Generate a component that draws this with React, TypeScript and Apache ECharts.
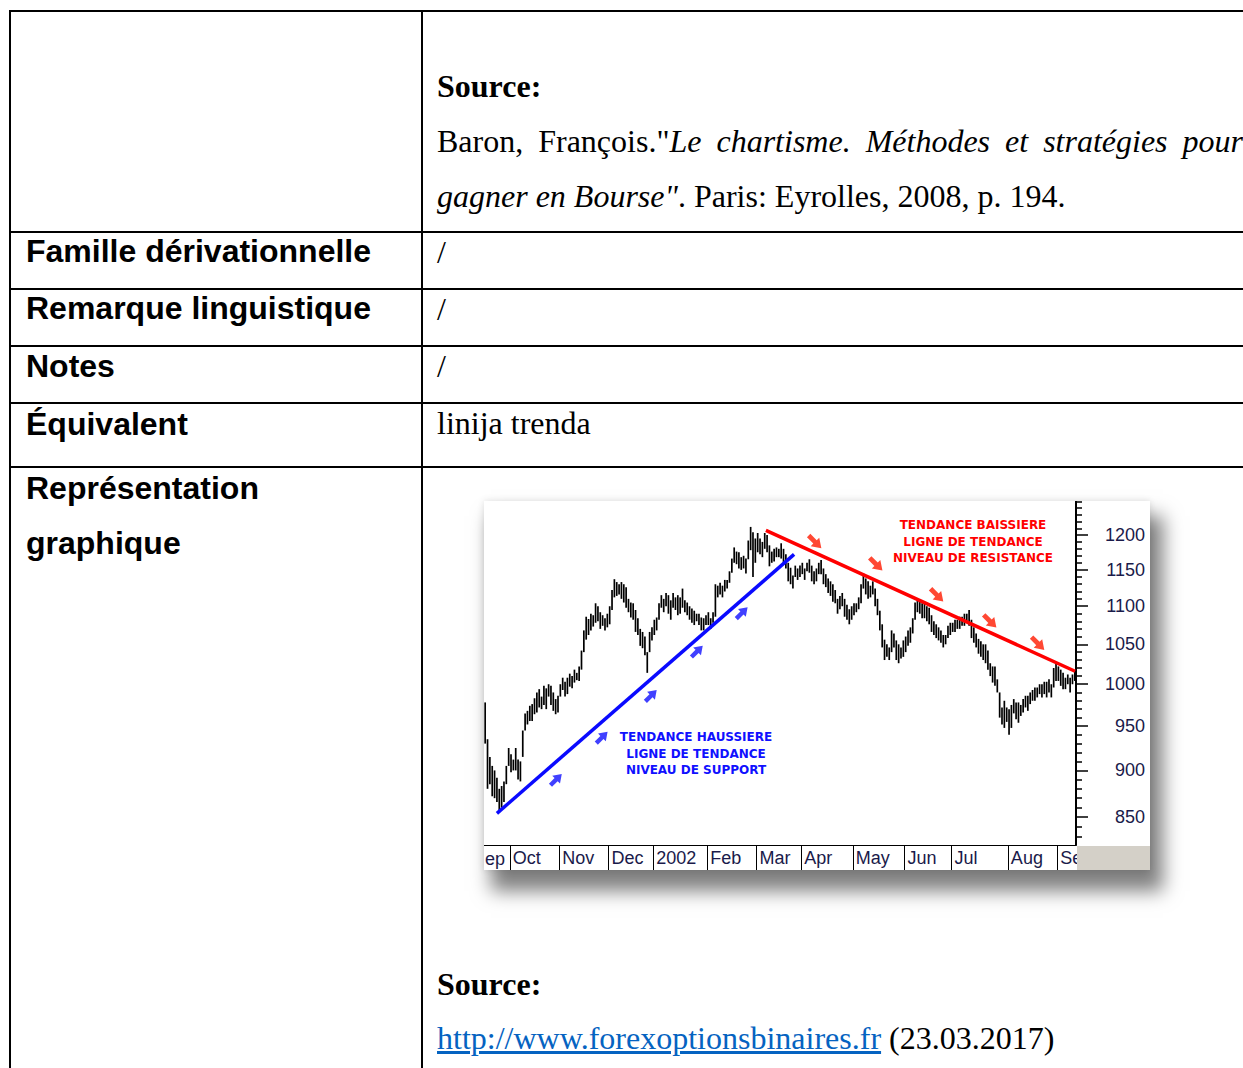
import React, { useEffect, useRef } from "react";
import * as echarts from "echarts";

// ---- Data (daily bars, Sep 2001 – Sep 2002) ----
const highs: number[] = [
  978, 935, 915, 905, 900, 892, 880, 883, 888, 905, 925,
  918, 912, 925, 912, 910, 945, 965, 968, 974, 976, 983, 990, 994, 985, 998, 995, 1000, 998, 990, 982, 986,
  1000, 1008, 1003, 1008, 1013, 1010, 1018, 1014, 1022, 1042, 1068, 1086, 1083, 1090, 1088, 1104, 1100, 1092, 1088, 1084,
  1090, 1100, 1122, 1137, 1133, 1130, 1133, 1130, 1126, 1110, 1105, 1104, 1095, 1084, 1070, 1066, 1060, 1040, 1066, 1072,
  1082, 1085, 1104, 1115, 1110, 1118, 1115, 1108, 1118, 1112, 1115, 1112, 1124, 1108, 1105, 1100, 1097, 1094, 1090, 1090, 1085, 1084, 1088,
  1092, 1084, 1092, 1130, 1128, 1132, 1128, 1136, 1136, 1148, 1166, 1182, 1176, 1175, 1168, 1170, 1166, 1192, 1212, 1204,
  1195, 1203, 1195, 1190, 1203, 1200, 1185, 1176, 1180, 1182, 1180, 1188, 1180, 1172, 1160, 1153, 1142, 1156, 1152,
  1156, 1160, 1152, 1160, 1165, 1156, 1148, 1152, 1160, 1164, 1152, 1144, 1138, 1134, 1130, 1122, 1110, 1114, 1118, 1110, 1102, 1096,
  1100, 1104, 1104, 1112, 1130, 1145, 1138, 1134, 1128, 1134, 1124, 1110, 1094, 1076, 1056, 1050, 1046, 1068, 1064, 1055, 1050, 1046,
  1055, 1060, 1068, 1072, 1084, 1105, 1108, 1108, 1104, 1104, 1100, 1098, 1088, 1080, 1076, 1072, 1068, 1062, 1062, 1074, 1078,
  1078, 1082, 1082, 1086, 1086, 1090, 1090, 1095, 1082, 1072, 1064, 1057, 1054, 1050, 1050, 1042, 1026, 1022, 1022, 1006, 990, 972, 980,
  972, 970, 975, 982, 978, 978, 975, 982, 986, 986, 990, 993, 996, 996, 1000, 1000, 1003, 1003, 1006, 1000, 1020,
  1026, 1022, 1018, 1014, 1008, 1012, 1008, 1012, 1016,
];
const lows: number[] = [
  930, 880, 885, 872, 870, 866, 855, 860, 866, 885, 905,
  898, 900, 900, 890, 888, 915, 945, 952, 956, 956, 964, 966, 972, 970, 975, 970, 985, 975, 968, 964, 966,
  985, 993, 985, 988, 997, 995, 1002, 1005, 1004, 1018, 1040, 1056, 1062, 1068, 1073, 1078, 1080, 1070, 1074, 1068,
  1072, 1076, 1095, 1112, 1114, 1116, 1110, 1105, 1098, 1092, 1085, 1082, 1066, 1062, 1048, 1045, 1036, 1014, 1040, 1055,
  1062, 1068, 1082, 1098, 1092, 1100, 1090, 1082, 1098, 1095, 1088, 1090, 1098, 1092, 1088, 1082, 1078, 1075, 1080, 1075, 1068, 1068, 1075,
  1075, 1070, 1078, 1086, 1112, 1116, 1112, 1120, 1124, 1132, 1146, 1160, 1158, 1152, 1150, 1152, 1145, 1165, 1178, 1140,
  1160, 1175, 1172, 1168, 1180, 1175, 1155, 1160, 1162, 1168, 1168, 1166, 1160, 1152, 1134, 1130, 1124, 1140, 1136,
  1140, 1144, 1136, 1148, 1146, 1134, 1130, 1134, 1144, 1144, 1130, 1126, 1118, 1114, 1106, 1104, 1090, 1096, 1100, 1086, 1082, 1076,
  1082, 1088, 1092, 1096, 1104, 1124, 1116, 1110, 1112, 1116, 1100, 1088, 1068, 1046, 1030, 1034, 1030, 1040, 1046, 1030, 1026, 1032,
  1034, 1040, 1048, 1052, 1064, 1082, 1092, 1090, 1084, 1084, 1080, 1076, 1066, 1062, 1058, 1055, 1052, 1046, 1050, 1058, 1062,
  1066, 1066, 1070, 1070, 1074, 1074, 1078, 1074, 1058, 1052, 1046, 1038, 1034, 1030, 1026, 1018, 1010, 1002, 998, 990, 960, 952, 948,
  955, 940, 948, 965, 958, 954, 962, 966, 972, 968, 976, 980, 980, 984, 988, 984, 988, 984, 990, 984, 996,
  1004, 1004, 998, 994, 994, 1000, 990, 1000, 1004,
];

// Month separators: index of first trading day of each month
const monthStarts: number[] = [11, 32, 53, 72, 95, 116, 135, 157, 179, 199, 223, 244];
const monthNames: string[] = ["Oct", "Nov", "Dec", "2002", "Feb", "Mar", "Apr", "May", "Jun", "Jul", "Aug", "Sep"];

// Price axis (log scale)
const priceLabels: number[] = [850, 900, 950, 1000, 1050, 1100, 1150, 1200];
const minorTicks: number[] = [830, 840, 860, 870, 880, 890, 910, 920, 930, 940, 960, 970, 980, 990, 1010, 1020, 1030, 1040,
  1060, 1070, 1080, 1090, 1110, 1120, 1130, 1140, 1160, 1170, 1180, 1190, 1210, 1220, 1230, 1240, 1250];
const priceMin = 821.6;
const priceMax = 1251;

// Trend lines [day index, price]
const resistanceLine: [number, number][] = [[119.5, 1207], [251.1, 1016]];
const supportLine: [number, number][] = [[5.0, 854], [131.5, 1172]];
const resistanceArrows: [number, number][] = [[140.4, 1190], [166.4, 1158], [192.3, 1115], [214.9, 1080], [235.3, 1051]];
const supportArrows: [number, number][] = [[30.2, 890], [49.7, 937], [70.6, 986], [90.2, 1041], [109.3, 1091]];

const redText: string[] = ["TENDANCE BAISSIERE", "LIGNE DE TENDANCE", "NIVEAU DE RESISTANCE"];
const blueText: string[] = ["TENDANCE HAUSSIERE", "LIGNE DE TENDANCE", "NIVEAU DE SUPPORT"];

const LN = Math.log;
const AXIS_COLOR = "#1a1a4a";
const SANS = "'Liberation Sans', Arial, sans-serif";
const ARROW = "path://M3,14 L3,7 L0,7 L5,0 L10,7 L7,7 L7,14 Z";

function buildOption(): any {
  const bars = highs.map((h, i) => [i, LN(h), LN(lows[i])]);
  const tickVals = monthStarts.map((m) => m - 0.5);
  const gridRect = { left: 0, top: 0, width: 592, height: 344, containLabel: false };
  const noteText = (lines: string[], cx: number, ys: number[], color: string) =>
    lines.map((t, i) => ({
      type: "text",
      z: 50,
      style: {
        text: t,
        x: cx,
        y: ys[i],
        align: "center",
        verticalAlign: "middle",
        textAlign: "center",
        textVerticalAlign: "middle",
        font: "bold 12px 'DejaVu Sans', Verdana, sans-serif",
        fill: color,
      },
    }));
  return {
    animation: false,
    backgroundColor: "#ffffff",
    grid: [gridRect, { ...gridRect }],
    xAxis: [
      {
        type: "value",
        gridIndex: 0,
        min: -0.5,
        max: 251.5,
        splitLine: { show: false },
        axisLine: { show: true, onZero: false, lineStyle: { color: "#000", width: 1 } },
        axisTick: { show: true, customValues: tickVals, length: 25, lineStyle: { color: "#000", width: 1 } },
        axisLabel: {
          show: true,
          customValues: tickVals,
          formatter: (v: number) => monthNames[monthStarts.indexOf(Math.round(v + 0.5))] ?? "",
          align: "left",
          margin: 4,
          padding: [0, 0, 0, 3],
          fontSize: 18,
          fontFamily: SANS,
          color: AXIS_COLOR,
        },
      },
      { type: "value", gridIndex: 1, min: -0.5, max: 251.5, show: false, splitLine: { show: false } },
    ],
    yAxis: [
      {
        type: "value",
        gridIndex: 0,
        position: "right",
        min: LN(priceMin),
        max: LN(priceMax),
        splitLine: { show: false },
        axisLine: { show: true, onZero: false, lineStyle: { color: "#000", width: 2 } },
        axisTick: { show: true, customValues: priceLabels.map(LN), length: 12, lineStyle: { color: "#000", width: 1.5 } },
        axisLabel: {
          show: true,
          customValues: priceLabels.map(LN),
          formatter: (v: number) => String(Math.round(Math.exp(v))),
          align: "right",
          margin: 69,
          fontSize: 18,
          fontFamily: SANS,
          color: AXIS_COLOR,
        },
      },
      {
        type: "value",
        gridIndex: 1,
        position: "right",
        min: LN(priceMin),
        max: LN(priceMax),
        splitLine: { show: false },
        axisLine: { show: false, onZero: false },
        axisTick: { show: true, customValues: minorTicks.map(LN), length: 6, lineStyle: { color: "#000", width: 1.5 } },
        axisLabel: { show: false },
      },
    ],
    series: [
      {
        type: "custom",
        name: "bars",
        xAxisIndex: 0,
        yAxisIndex: 0,
        silent: true,
        clip: true,
        encode: { x: 0, y: [1, 2] },
        data: bars,
        renderItem: (params: any, api: any) => {
          const x = api.value(0);
          const p1 = api.coord([x, api.value(1)]);
          const p2 = api.coord([x, api.value(2)]);
          return {
            type: "line",
            shape: { x1: p1[0], y1: p1[1], x2: p2[0], y2: p2[1] },
            style: { stroke: "#000", lineWidth: 1.7 },
          };
        },
      },
      {
        type: "line",
        name: "resistance",
        xAxisIndex: 0,
        yAxisIndex: 0,
        symbol: "none",
        silent: true,
        z: 5,
        lineStyle: { color: "#ff0000", width: 3.5 },
        data: resistanceLine.map(([d, v]) => [d, LN(v)]),
      },
      {
        type: "line",
        name: "support",
        xAxisIndex: 0,
        yAxisIndex: 0,
        symbol: "none",
        silent: true,
        z: 5,
        lineStyle: { color: "#0a0aff", width: 3.5 },
        data: supportLine.map(([d, v]) => [d, LN(v)]),
      },
      {
        type: "scatter",
        name: "resistanceArrows",
        xAxisIndex: 0,
        yAxisIndex: 0,
        symbol: ARROW,
        symbolSize: [12, 18],
        symbolRotate: -135,
        silent: true,
        z: 6,
        itemStyle: { color: "#ff1a00" },
        data: resistanceArrows.map(([d, v]) => [d, LN(v)]),
      },
      {
        type: "scatter",
        name: "supportArrows",
        xAxisIndex: 0,
        yAxisIndex: 0,
        symbol: ARROW,
        symbolSize: [11, 16],
        symbolRotate: -45,
        silent: true,
        z: 6,
        itemStyle: { color: "#1010ff" },
        data: supportArrows.map(([d, v]) => [d, LN(v)]),
      },
    ],
    graphic: [
      { type: "rect", z: 100, shape: { x: 593, y: 345, width: 73, height: 24 }, style: { fill: "#d4d0c8" } },
      {
        type: "text",
        z: 50,
        style: { text: "ep", x: 1, y: 349, font: `18px ${SANS}`, fill: AXIS_COLOR, verticalAlign: "top", textVerticalAlign: "top" },
      },
      ...noteText(redText, 489, [24, 41, 57], "#ff0000"),
      ...noteText(blueText, 212, [236, 253, 269], "#1010ff"),
    ],
  };
}

function Chart() {
  const ref = useRef<HTMLDivElement>(null);
  useEffect(() => {
    if (!ref.current) return;
    const chart = echarts.init(ref.current, null, { renderer: "svg" });
    chart.setOption(buildOption());
    return () => chart.dispose();
  }, []);
  return <div ref={ref} style={{ width: 666, height: 369 }} />;
}

const SERIF = "'Liberation Serif', 'Times New Roman', serif";

const serif = (top: number, extra: React.CSSProperties = {}): React.CSSProperties => ({
  position: "absolute",
  left: 437,
  top,
  fontFamily: SERIF,
  fontSize: 32,
  lineHeight: "32px",
  color: "#000",
  whiteSpace: "nowrap",
  ...extra,
});
const sans = (top: number): React.CSSProperties => ({
  position: "absolute",
  left: 26,
  top,
  fontFamily: SANS,
  fontWeight: "bold",
  fontSize: 32,
  lineHeight: "32px",
  color: "#000",
  whiteSpace: "nowrap",
});

const hLines = [11, 232, 289, 346, 403, 467];

export default function App() {
  return (
    <div style={{ position: "absolute", left: 0, top: 0, width: 1243, height: 1068, background: "#fff", overflow: "hidden" }}>
      {hLines.map((y) => (
        <div key={y} style={{ position: "absolute", left: 9, top: y - 1, width: 1240, height: 2, background: "#000" }} />
      ))}
      <div style={{ position: "absolute", left: 9, top: 10, width: 2, height: 1070, background: "#000" }} />
      <div style={{ position: "absolute", left: 421, top: 10, width: 2, height: 1070, background: "#000" }} />

      <div style={serif(70, { fontWeight: "bold" })}>Source:</div>
      <div style={serif(125, { width: 806, textAlign: "justify", textAlignLast: "justify" } as React.CSSProperties)}>
        Baron, François."<i>Le chartisme. Méthodes et stratégies pour</i>
      </div>
      <div style={serif(180)}>
        <i>gagner en Bourse"</i>. Paris: Eyrolles, 2008, p. 194.
      </div>

      <div style={sans(235)}>Famille dérivationnelle</div>
      <div style={serif(236)}>/</div>
      <div style={sans(292)}>Remarque linguistique</div>
      <div style={serif(293)}>/</div>
      <div style={sans(350)}>Notes</div>
      <div style={serif(350)}>/</div>
      <div style={sans(408)}>Équivalent</div>
      <div style={serif(407)}>linija trenda</div>
      <div style={sans(472)}>Représentation</div>
      <div style={sans(527)}>graphique</div>

      <div
        style={{
          position: "absolute",
          left: 484,
          top: 501,
          width: 666,
          height: 369,
          background: "#fff",
          boxShadow: "10px 18px 18px 3px rgba(0,0,0,0.5), 0 0 7px rgba(0,0,0,0.12)",
        }}
      >
        <Chart />
      </div>

      <div style={serif(968, { fontWeight: "bold" })}>Source:</div>
      <div style={serif(1022)}>
        <span style={{ color: "#0563c1", textDecoration: "underline" }}>http://www.forexoptionsbinaires.fr</span> (23.03.2017)
      </div>
    </div>
  );
}
